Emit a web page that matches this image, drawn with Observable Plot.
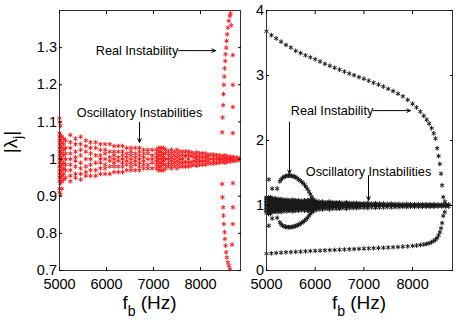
<!DOCTYPE html>
<html><head><meta charset="utf-8">
<script src="https://cdn.jsdelivr.net/npm/d3@7"></script>
<script src="https://cdn.jsdelivr.net/npm/@observablehq/plot@0.6"></script>
<style>
body{margin:0;background:#fff;}
#wrap{position:relative;width:463px;height:327px;overflow:hidden;font-family:"Liberation Sans",Arial,Helvetica,sans-serif;}
#wrap svg{position:absolute;top:0;overflow:visible;}
</style></head><body><div id="wrap"></div>
<script>
const xTicks = [5000, 6000, 7000, 8000];
const leftYTicks = [0.7, 0.8, 0.9, 1.0, 1.1, 1.2, 1.3];
const rightYTicks = [0, 1, 2, 3, 4];

// ---------- LEFT PANEL (red) ----------
const leftBandF = [5000,5020,5050,5090,5130,5230,5340,5450,5560,5660,5770,5870,5970,6070,6160,6250,6340,6430,6520,6610,6700,6790,6880,6970,7060,7110,7160,7210,7260,7320,7380,7440,7500,7560,7620,7680,7740,7800,7860,7920,7980,8040,8100,8160,8220,8280,8340,8400,8460,8520,8580,8640,8700,8760,8820];
const leftBandV = [
 [1.11,1.10,1.07,1.06,1.05,1.04,1.03,1.02,1.01,1.0,0.99,0.98,0.97,0.96,0.95,0.94,0.92,0.91],
 [1.09,1.065,1.05,1.035,1.02,1.005,0.995,0.98,0.965,0.95,0.935,0.905],
 [1.06,1.045,1.03,1.015,1.0,0.985,0.97,0.955,0.94,0.92],
 [1.055,1.04,1.025,1.01,0.99,0.975,0.96,0.945],
 [1.05,1.03,1.015,1.0,0.985,0.97,0.95],
 [1.065,1.045,1.03,1.015,1.0,0.985,0.97,0.955,0.94],
 [1.055,1.04,1.02,1.005,0.995,0.98,0.96,0.95],
 [1.06,1.04,1.025,1.01,0.99,0.975,0.96,0.945],
 [1.05,1.035,1.02,1.0,0.98,0.965,0.955],
 [1.045,1.03,1.015,1.0,0.985,0.97,0.955],
 [1.045,1.03,1.01,0.99,0.97,0.955],
 [1.04,1.025,1.01,1.0,0.99,0.975,0.96],
 [1.04,1.025,1.015,1.0,0.985,0.975,0.96],
 [1.04,1.02,1.005,0.995,0.98,0.96],
 [1.035,1.02,1.01,1.0,0.99,0.98,0.965],
 [1.035,1.02,1.005,0.995,0.98,0.965],
 [1.035,1.02,1.01,1.0,0.99,0.98,0.965],
 [1.03,1.015,1.005,0.995,0.985,0.97],
 [1.03,1.02,1.01,1.0,0.99,0.98,0.97],
 [1.03,1.015,1.005,0.995,0.985,0.97],
 [1.03,1.02,1.01,1.0,0.99,0.98,0.97],
 [1.025,1.015,1.005,0.995,0.985,0.975],
 [1.025,1.015,1.0,0.985,0.975],
 [1.025,1.01,1.0,0.99,0.975],
 [1.025,1.015,1.005,0.995,0.985,0.975],
 [1.03,1.02,1.01,1.0,0.99,0.98,0.97],
 [1.03,1.02,1.01,1.0,0.99,0.98,0.97],
 [1.03,1.015,1.005,0.995,0.985,0.97],
 [1.025,1.015,1.0,0.985,0.975],
 [1.02,1.01,1.0,0.99,0.98],
 [1.025,1.015,1.005,0.995,0.985,0.975],
 [1.02,1.01,1.0,0.99,0.98],
 [1.025,1.015,1.005,0.995,0.985,0.975],
 [1.02,1.01,1.0,0.99,0.98],
 [1.02,1.01,1.0,0.99,0.98],
 [1.02,1.008,0.992,0.98],
 [1.02,1.01,1.0,0.99,0.98],
 [1.018,1.008,0.992,0.982],
 [1.015,1.005,0.995,0.985],
 [1.018,1.008,1.0,0.992,0.982],
 [1.015,1.005,0.995,0.985],
 [1.015,1.005,0.995,0.985],
 [1.015,1.005,0.995,0.985],
 [1.012,1.004,0.996,0.988],
 [1.012,1.0,0.988],
 [1.012,1.004,0.996,0.988],
 [1.01,1.0,0.99],
 [1.01,1.003,0.997,0.99],
 [1.008,1.0,0.992],
 [1.01,1.003,0.997,0.99],
 [1.007,1.0,0.993],
 [1.006,1.0,0.994],
 [1.005,1.0,0.995],
 [1.004,0.996],
 [1.003,0.997]
];
// real-instability branch (left)
const leftRealF = [8461,8468,8482,8489,8496,8504,8511,8525,8532,8546,8553,8567,8582,8603,8624,8638, 8461,8468,8482,8489,8496,8511,8518,8532,8546,8560,8582,8603,8624, 8652,8688,8688,8688,8688,8688,8688,8688,8670];
const leftRealV = [1.072,1.112,1.145,1.175,1.2,1.222,1.244,1.264,1.282,1.3,1.318,1.336,1.354,1.372,1.385,1.392, 0.933,0.897,0.87,0.848,0.825,0.803,0.785,0.767,0.749,0.735,0.722,0.713,0.704, 1.36,1.28,1.2,1.14,1.07,0.935,0.87,0.825,0.77];

// ---------- RIGHT PANEL (black) ----------
const rightBandF = [5000,5040,5080,5130,5180,5240,5300,5360,5420,5480,5540,5600,5660,5720,5780,5840,5900,5960,6020,6080,6150,6220,6290,6360,6430,6500,6570,6640,6710,6780,6850,6920,7000,7080,7160,7240,7320,7400,7480,7560,7640,7720,7800,7880,7960,8040,8120,8200,8280,8360,8440,8520,8600,8680,8740];
const rightBandV = [
 [1.13,1.08,1.03,0.98,0.93,0.88],
 [1.12,1.07,1.02,0.97,0.92,0.87],
 [1.13,1.08,1.03,0.97,0.92,0.87],
 [1.11,1.06,1.0,0.95,0.9],
 [1.11,1.06,1.01,0.96,0.9],
 [1.1,1.05,1.0,0.95,0.9],
 [1.1,1.05,1.0,0.95,0.9],
 [1.09,1.04,0.99,0.94,0.91],
 [1.09,1.04,0.99,0.94,0.91],
 [1.08,1.03,0.98,0.93,0.92],
 [1.09,1.04,0.99,0.94,0.91],
 [1.08,1.03,0.98,0.92],
 [1.08,1.03,0.98,0.92],
 [1.07,1.02,0.97,0.93],
 [1.08,1.03,0.98,0.92],
 [1.08,1.03,0.98,0.92],
 [1.09,1.04,0.99,0.94,0.91],
 [1.09,1.04,0.99,0.94,0.91],
 [1.07,1.02,0.97,0.93],
 [1.06,1.01,0.96,0.94],
 [1.06,1.01,0.96,0.94],
 [1.05,1.0,0.95],
 [1.06,1.01,0.96,0.94],
 [1.05,1.0,0.95],
 [1.05,1.0,0.95],
 [1.05,1.01,0.96,0.95],
 [1.04,1.0,0.96],
 [1.05,1.0,0.95],
 [1.04,1.0,0.96],
 [1.04,1.0,0.96],
 [1.04,1.0,0.96],
 [1.035,1.0,0.965],
 [1.035,1.0,0.965],
 [1.04,1.0,0.96],
 [1.03,1.0,0.97],
 [1.035,1.0,0.965],
 [1.03,1.0,0.97],
 [1.03,1.0,0.97],
 [1.025,1.0,0.975],
 [1.03,1.0,0.97],
 [1.025,1.0,0.975],
 [1.025,1.0,0.975],
 [1.02,1.0,0.98],
 [1.025,1.0,0.975],
 [1.02,1.0,0.98],
 [1.02,1.0,0.98],
 [1.02,1.0,0.98],
 [1.02,1.0,0.98],
 [1.02,1.0,0.98],
 [1.02,1.0,0.98],
 [1.02,1.0,0.98],
 [1.015,1.0,0.985],
 [1.015,1.0,0.985],
 [1.015,1.0,0.985],
 [1.015,0.985]
];
// scattered points near 5000 Hz
const rightOutF = [5048,5116,5219,5116,5219,5048];
const rightOutV = [1.40,1.26,1.26,0.80,0.81,0.69];
// low-frequency real-instability loop
const loopF = [5274,5300,5330,5360,5390,5420,5450,5480,5510,5540,5570,5600,5630,5660,5690,5720,5750,5780,5810,5840,5870,5900,5930,5960];
const loopUpper = [1.37,1.40,1.425,1.44,1.45,1.457,1.46,1.46,1.456,1.45,1.445,1.435,1.42,1.40,1.385,1.365,1.345,1.32,1.29,1.255,1.215,1.175,1.13,1.09];
const loopLower = [0.74,0.71,0.69,0.68,0.672,0.668,0.666,0.666,0.668,0.672,0.677,0.685,0.695,0.705,0.718,0.732,0.747,0.765,0.785,0.81,0.84,0.87,0.9,0.93];
// main real pair
const pairF = [5000,5100,5200,5300,5400,5500,5600,5700,5800,5900,6000,6100,6200,6300,6400,6500,6600,6700,6800,6900,7000,7100,7200,7300,7400,7500,7600,7700,7800,7900,8000,8080,8160,8230,8290,8340,8390,8435,8470,8505,8535,8560,8585,8607,8630];
const pairUpper = [3.68,3.62,3.57,3.52,3.47,3.43,3.38,3.345,3.31,3.28,3.25,3.215,3.18,3.15,3.12,3.09,3.06,3.03,3.005,2.975,2.95,2.92,2.89,2.86,2.83,2.795,2.76,2.72,2.68,2.625,2.565,2.51,2.445,2.38,2.32,2.26,2.19,2.11,2.03,1.88,1.76,1.64,1.49,1.31,1.13];
const pairLower = [0.26,0.265,0.27,0.275,0.28,0.283,0.287,0.29,0.295,0.3,0.303,0.306,0.31,0.313,0.316,0.32,0.323,0.326,0.33,0.333,0.337,0.34,0.343,0.347,0.35,0.354,0.358,0.362,0.367,0.372,0.378,0.384,0.392,0.4,0.41,0.42,0.435,0.455,0.475,0.5,0.54,0.59,0.65,0.73,0.84];
const pairEndF = [8662, 8662];
const pairEndV = [1.06, 0.90];

// ---------- annotations ----------
const leftNotes = [{x: 6648, y: 1.292, text: "Real Instability"}, {x: 6702, y: 1.123, text: "Oscillatory Instabilities"}];
const leftArrows = [{x1: 7530, y1: 1.292, x2: 8318, y2: 1.292}, {x1: 6702, y1: 1.099, x2: 6702, y2: 1.045}];
const rightNotes = [{x: 6345, y: 2.46, text: "Real Instability"}, {x: 7095, y: 1.52, text: "Oscillatory Instabilities"}];
const rightArrows = [{x1: 7190, y1: 2.46, x2: 7957, y2: 2.46}, {x1: 5472, y1: 2.28, x2: 5472, y2: 1.49}, {x1: 7095, y1: 1.46, x2: 7095, y2: 1.08}];

// ---------- build point tables ----------
const cols = (F, V) => F.flatMap((f, i) => V[i].map(v => ({f, v})));
const pairs = (F, V) => F.map((f, i) => ({f, v: V[i]}));
const spans = (F, V) => F.map((f, i) => ({f, lo: d3.min(V[i]), hi: d3.max(V[i])}));
const leftPts = [...cols(leftBandF, leftBandV), ...pairs(leftRealF, leftRealV)];
const rightPts = [...cols(rightBandF, rightBandV), ...pairs(rightOutF, rightOutV),
  ...pairs(loopF, loopUpper), ...pairs(loopF, loopLower),
  ...pairs(pairF, pairUpper), ...pairs(pairF, pairLower), ...pairs(pairEndF, pairEndV)];
const rightSpans = spans(rightBandF, rightBandV);

const FONT = '"Liberation Sans", Arial, Helvetica, sans-serif';
const fmtY = d => d3.format("~g")(d);

function panel({width, marginLeft, marginRight, xDomain, yDomain, yTicks, pts, color, r, notes, arrows, fill}) {
  return Plot.plot({
    width, height: 327, marginLeft, marginRight, marginTop: 10, marginBottom: 57,
    x: {domain: xDomain}, y: {domain: yDomain},
    style: {fontFamily: FONT, background: "transparent", color: "black"},
    marks: [
      fill ? Plot.ruleX(fill, {x: "f", y1: "lo", y2: "hi", stroke: color, strokeWidth: 4}) : null,
      Plot.dot(pts, {x: "f", y: "v", symbol: "asterisk", r, stroke: color, strokeWidth: 1}),
      Plot.frame({stroke: "#333", strokeWidth: 1}),
      Plot.axisX(xTicks, {anchor: "bottom", tickSize: -3, tickPadding: 11, fontSize: 14.5, label: null, tickFormat: d => String(d)}),
      Plot.axisX(xTicks, {anchor: "top", tickSize: -3, tickFormat: () => "", label: null}),
      Plot.axisY(yTicks, {anchor: "left", tickSize: -3, tickPadding: 5.5, fontSize: 14.5, label: null, tickFormat: fmtY}),
      Plot.axisY(yTicks, {anchor: "right", tickSize: -3, tickFormat: () => "", label: null}),
      Plot.arrow(arrows, {x1: "x1", y1: "y1", x2: "x2", y2: "y2", stroke: "black", strokeWidth: 1, headLength: 6, headAngle: 50}),
      Plot.text(notes, {x: "x", y: "y", text: "text", fontSize: 12.7, fill: "black", textAnchor: "middle"})
    ]
  });
}

const wrap = document.getElementById("wrap");
const left = panel({width: 246, marginLeft: 59, marginRight: 6, xDomain: [5000, 8850], yDomain: [0.7, 1.4], yTicks: leftYTicks, pts: leftPts, color: "#ff1a1a", r: 2.2, notes: leftNotes, arrows: leftArrows});
const right = panel({width: 217, marginLeft: 20, marginRight: 11, xDomain: [5000, 8820], yDomain: [0, 4], yTicks: rightYTicks, pts: rightPts, color: "#1a1a1a", r: 2.2, notes: rightNotes, arrows: rightArrows, fill: rightSpans});
left.style.left = "0px";
right.style.left = "246px";
wrap.appendChild(left);
wrap.appendChild(right);

function xLabel(svg, cx) {
  const t = d3.select(svg).append("text").attr("x", cx).attr("y", 309).attr("text-anchor", "middle")
    .attr("font-family", FONT).attr("font-size", 19).attr("fill", "black");
  t.append("tspan").text("f");
  t.append("tspan").attr("font-size", 14).attr("dy", 7).text("b");
  t.append("tspan").attr("dy", -7).text(" (Hz)");
}
xLabel(left, 149.5);
xLabel(right, 113);

const yl = d3.select(left).append("text").attr("transform", "translate(17,142) rotate(-90)").attr("text-anchor", "middle")
  .attr("font-family", FONT).attr("font-size", 19).attr("fill", "black");
yl.append("tspan").text("|λ");
yl.append("tspan").attr("font-size", 13).attr("dy", 5).text("j");
yl.append("tspan").attr("dy", -5).text("|");
</script>
</body></html>
